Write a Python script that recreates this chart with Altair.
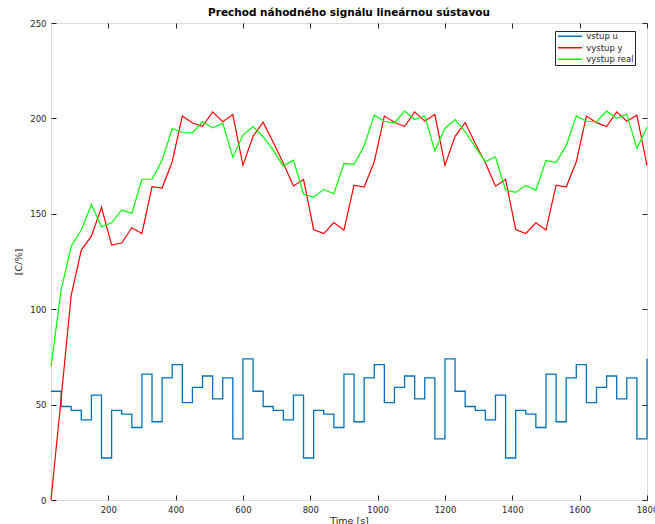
import altair as alt
import pandas as pd

# Sample instants [s]
time_s = [
    30, 60, 90, 120, 150, 180, 210, 240, 270, 300,
    330, 360, 390, 420, 450, 480, 510, 540, 570, 600,
    630, 660, 690, 720, 750, 780, 810, 840, 870, 900,
    930, 960, 990, 1020, 1050, 1080, 1110, 1140, 1170, 1200,
    1230, 1260, 1290, 1320, 1350, 1380, 1410, 1440, 1470, 1500,
    1530, 1560, 1590, 1620, 1650, 1680, 1710, 1740, 1770, 1800,
]

# Random input signal u (held between samples)
vstup_u = [
    57, 49, 47, 42, 55, 22, 47, 45, 38, 66, 41, 64, 71, 51, 59, 65, 53, 64, 32, 74,
    57, 49, 47, 42, 55, 22, 47, 45, 38, 66, 41, 64, 71, 51, 59, 65, 53, 64, 32, 74,
    57, 49, 47, 42, 55, 22, 47, 45, 38, 66, 41, 64, 71, 51, 59, 65, 53, 64, 32, 74,
]

# Model output y
vystup_y = [
    0.0, 53.0, 107.3, 131.0, 138.3, 153.4, 133.6, 134.7, 142.7, 139.7,
    164.2, 163.5, 177.3, 201.2, 197.6, 195.9, 203.4, 198.3, 202.0, 175.4,
    190.6, 198.0, 187.5, 176.5, 164.6, 168.0, 141.8, 139.6, 145.4, 141.4,
    165.0, 164.0, 177.3, 201.2, 198.0, 195.7, 203.4, 198.6, 202.0, 175.4,
    190.6, 197.8, 186.8, 176.8, 164.5, 168.0, 141.8, 139.7, 145.3, 141.5,
    165.0, 164.0, 177.3, 201.2, 197.8, 195.7, 203.4, 198.5, 201.7, 175.4,
]

# Measured output
vystup_real = [
    69.8, 110.0, 133.0, 141.5, 154.9, 143.2, 145.3, 152.0, 150.2, 168.1,
    168.1, 178.1, 194.7, 192.6, 192.4, 198.2, 195.0, 197.5, 179.7, 191.3,
    195.7, 190.4, 183.4, 175.0, 178.1, 160.4, 158.8, 162.7, 160.5, 176.4,
    175.9, 185.5, 201.7, 198.5, 197.6, 203.8, 199.4, 201.3, 182.9, 194.8,
    199.4, 193.0, 185.1, 177.3, 179.9, 162.5, 161.2, 164.9, 162.3, 178.0,
    176.9, 185.7, 201.3, 198.5, 198.3, 203.8, 200.0, 202.2, 184.3, 195.4,
]

series_names = ["vstup u", "vystup y", "vystup real"]
series_colors = ["#0072BD", "#FF0000", "#00FF00"]

x_ticks = [200, 400, 600, 800, 1000, 1200, 1400, 1600, 1800]
y_ticks = [0, 50, 100, 150, 200, 250]

FONT = "DejaVu Sans"
INK = "#262626"
W, H = 596, 477

df_u = pd.DataFrame({"t": time_s, "v": vstup_u, "series": series_names[0]})
df_y = pd.DataFrame({"t": time_s, "v": vystup_y, "series": series_names[1]})
df_r = pd.DataFrame({"t": time_s, "v": vystup_real, "series": series_names[2]})

x_scale = alt.Scale(domain=[30, 1800], nice=False, zero=False)
y_scale = alt.Scale(domain=[0, 250], nice=False)
color_scale = alt.Scale(domain=series_names, range=series_colors)

legend = alt.Legend(
    orient="none", legendX=504, legendY=8, title=None,
    symbolType="M-4,0H4", symbolSize=36, symbolStrokeWidth=1.5,
    symbolOffset=9.75, labelOffset=12,
    labelFont=FONT, labelFontSize=8.5, labelColor=INK,
    padding=1, rowPadding=2.5,
    strokeColor=INK, fillColor="white",
)

main_x = alt.Axis(
    orient="bottom", values=x_ticks, format="d", ticks=False, domain=False,
    grid=False, labelFlush=False, labelOverlap=False, labelPadding=5,
    labelFont=FONT, labelFontSize=8.5, labelColor=INK,
    titleFont=FONT, titleFontSize=9.5, titleFontWeight="normal",
    titleColor=INK, titlePadding=2,
)
main_y = alt.Axis(
    orient="left", values=y_ticks, format="d", ticks=False, domain=False,
    grid=False, labelOverlap=False, labelPadding=5,
    labelFont=FONT, labelFontSize=8.5, labelColor=INK,
    titleFont=FONT, titleFontSize=9.5, titleFontWeight="normal",
    titleColor=INK, titlePadding=6,
)


def inner_ticks(orient, offset, values):
    # tick-only axis placed on the opposite frame edge so ticks point inward
    return alt.Axis(
        orient=orient, offset=offset, values=values, labels=False,
        domain=False, grid=False, ticks=True, tickSize=5,
        tickColor=INK, tickWidth=1, title=None,
    )


color = alt.Color("series:N", scale=color_scale, legend=legend)

u_line = alt.Chart(df_u).mark_line(interpolate="step-after", strokeWidth=1.3).encode(
    x=alt.X("t:Q", scale=x_scale, axis=main_x, title="Time [s]"),
    y=alt.Y("v:Q", scale=y_scale, axis=main_y, title="[C/%]"),
    color=color,
)

y_line = alt.Chart(df_y).mark_line(strokeWidth=1.2).encode(
    x=alt.X("t:Q", scale=x_scale, axis=inner_ticks("top", -H, x_ticks)),
    y=alt.Y("v:Q", scale=y_scale, axis=inner_ticks("right", -W, y_ticks)),
    color=color,
)

real_line = alt.Chart(df_r).mark_line(strokeWidth=1.2).encode(
    x=alt.X("t:Q", scale=x_scale, axis=inner_ticks("bottom", -H, x_ticks)),
    y=alt.Y("v:Q", scale=y_scale, axis=inner_ticks("left", -W, y_ticks)),
    color=color,
)

chart = (
    alt.layer(u_line, y_line, real_line)
    .resolve_axis(x="independent", y="independent")
    .properties(
        width=W, height=H,
        autosize=alt.AutoSizeParams(type="none"),
        padding={"left": 51, "top": 23, "right": 8, "bottom": 24},
        title=alt.TitleParams(
            "Prechod náhodného signálu lineárnou sústavou",
            font=FONT, fontSize=10.5, fontWeight="bold", color="black",
            anchor="middle", frame="group", baseline="alphabetic", offset=-7,
        ),
    )
    .configure_view(stroke=INK, strokeWidth=1)
    .configure(background="white")
)

chart.save("out.html", embed_options={"renderer": "svg", "actions": False})
